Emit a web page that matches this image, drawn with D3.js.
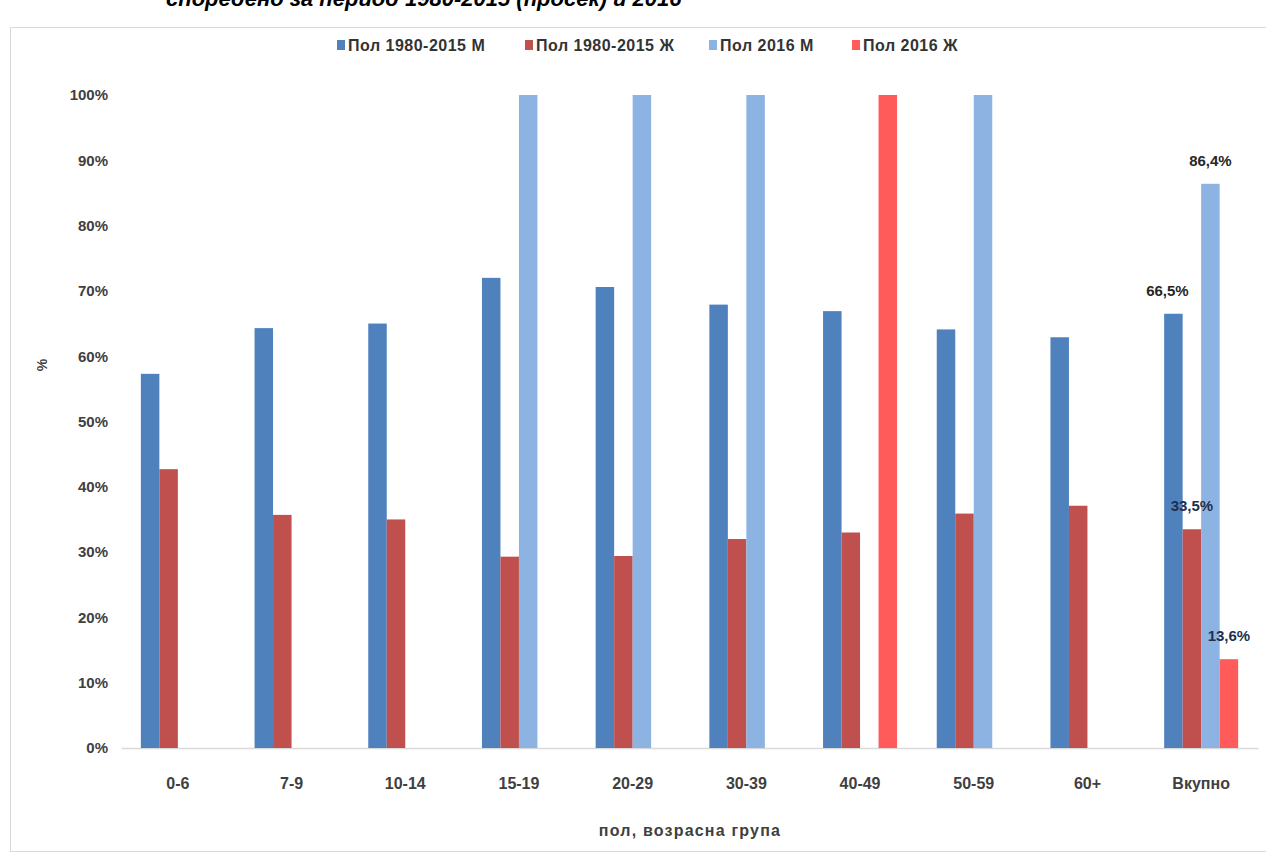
<!DOCTYPE html>
<html>
<head>
<meta charset="utf-8">
<script src="https://cdn.jsdelivr.net/npm/d3@7/dist/d3.min.js"></script>
<style>
  html, body { margin: 0; padding: 0; background: #fff; }
  svg { display: block; }
  text { font-family: "Liberation Sans", Arial, sans-serif; }
</style>
</head>
<body>
<svg id="chart" width="1266" height="854"></svg>
<script>
// ---- data ----
const categories = ["0-6", "7-9", "10-14", "15-19", "20-29", "30-39", "40-49", "50-59", "60+", "Вкупно"];
const seriesNames = ["Пол 1980-2015 М", "Пол 1980-2015 Ж", "Пол 2016 М", "Пол 2016 Ж"];
const male8015   = [57.3, 64.3, 65.0, 72.0, 70.6, 67.9, 66.9, 64.1, 62.9, 66.5];
const female8015 = [42.7, 35.7, 35.0, 29.3, 29.4, 32.0, 33.0, 35.9, 37.1, 33.5];
const male2016   = [null, null, null, 100, 100, 100, null, 100, null, 86.4];
const female2016 = [null, null, null, null, null, null, 100, null, null, 13.6];
const yTicks = [0, 10, 20, 30, 40, 50, 60, 70, 80, 90, 100];
const labeledCategory = "Вкупно";
const titleText = "споредено за период 1980-2015 (просек) и 2016";
const xTitle = "пол, возрасна група";
const yTitle = "%";

const seriesValues = [male8015, female8015, male2016, female2016];
const colors = ["#4f81bd", "#c0504d", "#8db3e2", "#ff5b5b"];

// ---- layout ----
const svg = d3.select("#chart");
const plot = { left: 121, right: 1258, top: 95, bottom: 748 };

// frame
svg.append("rect").attr("x", 10.5).attr("y", 27.5).attr("width", 1300).attr("height", 824)
  .attr("fill", "none").attr("stroke", "#d9d9d9").attr("stroke-width", 1);

// cropped title (cut off at the top edge, as in the reference)
svg.append("text").attr("x", 166).attr("y", 6)
  .attr("font-size", 22).attr("font-weight", "bold").attr("font-style", "italic")
  .attr("fill", "#000").text(titleText);

const x0 = d3.scaleBand().domain(categories).range([plot.left, plot.right]).padding(0);
const bw = x0.bandwidth();
const groupW = 74;
const x1 = d3.scaleBand().domain(d3.range(seriesNames.length))
  .range([bw / 2 - groupW / 2, bw / 2 + groupW / 2]).padding(0);
const y = d3.scaleLinear().domain([0, 100]).range([plot.bottom, plot.top]);

// y tick labels
const yAxis = d3.axisLeft(y).tickValues(yTicks).tickSize(0).tickPadding(0)
  .tickFormat(d => d + "%");
const gy = svg.append("g").attr("transform", "translate(108,0)").call(yAxis);
gy.select(".domain").remove();
gy.selectAll("text").attr("font-size", 15).attr("font-weight", "bold")
  .attr("fill", "#404040").attr("font-family", "Liberation Sans, Arial, sans-serif");

// x axis
const xAxis = d3.axisBottom(x0).tickSize(0).tickPadding(0);
const gx = svg.append("g").attr("transform", `translate(0,${plot.bottom})`).call(xAxis);
gx.select(".domain").attr("stroke", "#d9d9d9").attr("stroke-width", 1.5);
gx.selectAll("text").attr("font-size", 16).attr("font-weight", "bold")
  .attr("fill", "#404040").attr("dy", 0).attr("y", 41)
  .attr("font-family", "Liberation Sans, Arial, sans-serif");

// bars
const rows = [];
categories.forEach((c, i) => {
  seriesValues.forEach((vals, s) => {
    if (vals[i] != null) rows.push({ cat: c, s: s, v: vals[i] });
  });
});
svg.append("g").selectAll("rect").data(rows).join("rect")
  .attr("x", d => x0(d.cat) + x1(d.s))
  .attr("width", x1.bandwidth())
  .attr("y", d => y(d.v))
  .attr("height", d => y(0) - y(d.v))
  .attr("fill", d => colors[d.s]);

// data labels on "Вкупно"
const fmt = v => v.toFixed(1).replace(".", ",") + "%";
const labelRows = rows.filter(d => d.cat === labeledCategory);
svg.append("g").selectAll("text").data(labelRows).join("text")
  .attr("x", d => x0(d.cat) + x1(d.s) + x1.bandwidth() / 2 + (d.s === 0 ? -6 : 0))
  .attr("y", d => y(d.v) - 18)
  .attr("text-anchor", "middle")
  .attr("font-size", 15).attr("font-weight", "bold")
  .attr("fill", d => d.s % 2 === 1 ? "#1f2f4f" : "#262626")
  .text(d => fmt(d.v));

// axis titles
svg.append("text").attr("x", 690).attr("y", 836).attr("text-anchor", "middle")
  .attr("font-size", 16).attr("font-weight", "bold").attr("letter-spacing", 1.2)
  .attr("fill", "#404040").text(xTitle);
svg.append("text").attr("transform", "translate(47,365) rotate(-90)")
  .attr("text-anchor", "middle").attr("font-size", 14).attr("font-weight", "bold")
  .attr("fill", "#404040").text(yTitle);

// legend
const legendX = [337, 525, 709, 852];
const lg = svg.append("g");
seriesNames.forEach((n, i) => {
  lg.append("rect").attr("x", legendX[i]).attr("y", 40).attr("width", 8).attr("height", 10)
    .attr("fill", colors[i]);
  lg.append("text").attr("x", legendX[i] + 11).attr("y", 51)
    .attr("font-size", 16).attr("font-weight", "bold").attr("letter-spacing", 0.5)
    .attr("fill", "#333").text(n);
});
</script>
</body>
</html>
